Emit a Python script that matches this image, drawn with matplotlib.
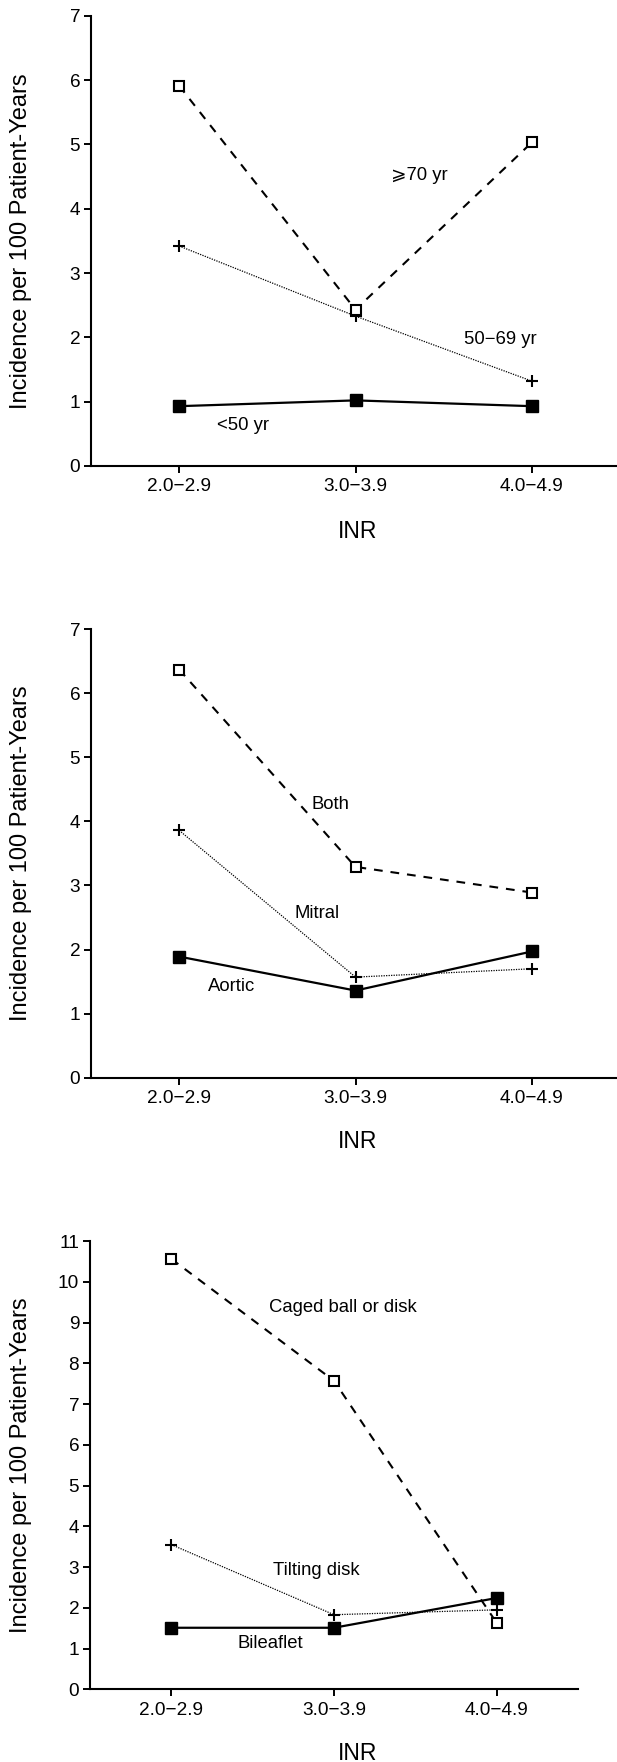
import matplotlib
matplotlib.use("Agg")
import matplotlib.pyplot as plt

plt.rcParams['font.family'] = ['Liberation Sans', 'DejaVu Sans']

W, H = 617, 1762

inr_labels = ["2.0−2.9", "3.0−3.9", "4.0−4.9"]

# panel 1: age groups
age_70 = [5.91, 2.43, 5.03]
age_50_69 = [3.42, 2.33, 1.32]
age_lt50 = [0.93, 1.02, 0.93]

# panel 2: valve position
pos_both = [6.37, 3.29, 2.89]
pos_mitral = [3.86, 1.57, 1.70]
pos_aortic = [1.89, 1.36, 1.97]

# panel 3: valve type
type_caged = [10.56, 7.57, 1.63]
type_tilting = [3.55, 1.83, 1.95]
type_bileaflet = [1.51, 1.51, 2.24]

fig = plt.figure(figsize=(W / 100, H / 100), dpi=100)


def px_axes(left, top, right, bottom):
    return fig.add_axes([left / W, 1 - bottom / H, (right - left) / W, (bottom - top) / H])


def style(ax, ymax):
    ax.set_xlim(-0.5, 2.5)
    ax.set_ylim(0, ymax)
    ax.set_xticks(range(len(inr_labels)))
    ax.set_xticklabels(inr_labels)
    ax.set_yticks(range(ymax + 1))
    for s in ("top", "right"):
        ax.spines[s].set_visible(False)
    for s in ("left", "bottom"):
        ax.spines[s].set_linewidth(1.5)
    ax.tick_params(axis="both", direction="out", length=4.8, width=1.4, labelsize=13.7)
    ax.tick_params(axis="y", pad=3)
    ax.tick_params(axis="x", pad=4)


def draw(ax, open_vals, plus_vals, filled_vals):
    x = range(len(inr_labels))
    ax.plot(x, plus_vals, color="black", lw=0.9, linestyle=(0, (1, 1)),
            marker="+", markersize=9, markeredgewidth=1.5, zorder=2)
    ax.plot(x, open_vals, color="black", lw=1.5, linestyle=(0, (4.2, 3.8)),
            marker="s", markersize=7, markerfacecolor="white",
            markeredgecolor="black", markeredgewidth=1.5, zorder=3)
    ax.plot(x, filled_vals, color="black", lw=1.6, linestyle="-",
            marker="s", markersize=9, markerfacecolor="black", zorder=4)


ax1 = px_axes(91, 15.7, 620, 466)
draw(ax1, age_70, age_50_69, age_lt50)
style(ax1, 7)
ax1.text(1.36, 4.52, "⩾70 yr", ha="center", va="center", fontsize=13.3)
ax1.text(1.82, 1.96, "50−69 yr", ha="center", va="center", fontsize=13.3)
ax1.text(0.36, 0.63, "<50 yr", ha="center", va="center", fontsize=13.3)

ax2 = px_axes(91, 629.2, 620, 1077.7)
draw(ax2, pos_both, pos_mitral, pos_aortic)
style(ax2, 7)
ax2.text(0.86, 4.27, "Both", ha="center", va="center", fontsize=13.3)
ax2.text(0.78, 2.57, "Mitral", ha="center", va="center", fontsize=13.3)
ax2.text(0.30, 1.43, "Aortic", ha="center", va="center", fontsize=13.3)

ax3 = px_axes(90, 1241, 578, 1689.3)
draw(ax3, type_caged, type_tilting, type_bileaflet)
style(ax3, 11)
ax3.text(1.055, 9.36, "Caged ball or disk", ha="center", va="center", fontsize=13.3)
ax3.text(0.89, 2.92, "Tilting disk", ha="center", va="center", fontsize=13.3)
ax3.text(0.61, 1.12, "Bileaflet", ha="center", va="center", fontsize=13.3)

# axis titles
for ycen, yinr in [((15.7 + 466) / 2, 531), ((629.2 + 1077.7) / 2, 1142), ((1241 + 1689.3) / 2, 1754)]:
    fig.text(21 / W, 1 - ycen / H, "Incidence per 100 Patient-Years", rotation=90,
             ha="center", va="center", fontsize=17)
    fig.text(358 / W, 1 - yinr / H, "INR", ha="center", va="center", fontsize=16.5)

fig.savefig("out.png", dpi=100, facecolor="white")
